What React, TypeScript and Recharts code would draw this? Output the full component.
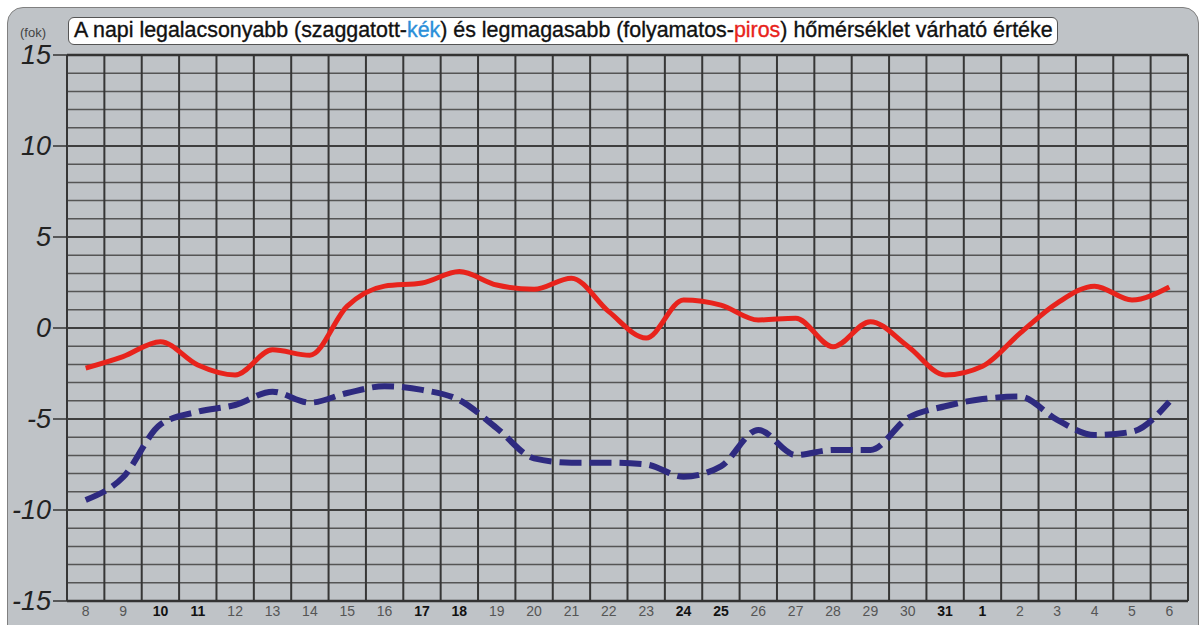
import React from 'react';
import { LineChart, Line, XAxis, YAxis, CartesianGrid, ReferenceLine } from 'recharts';

const days = [
  '8', '9', '10', '11', '12', '13', '14', '15', '16', '17', '18', '19', '20', '21', '22',
  '23', '24', '25', '26', '27', '28', '29', '30', '31', '1', '2', '3', '4', '5', '6',
];
const boldDays = ['10', '11', '17', '18', '24', '25', '31', '1'];

// napi legmagasabb (piros)
const maxTemp = [
  -2.2, -1.57, -0.75, -2.03, -2.58, -1.2, -1.5, 1.2, 2.3, 2.47, 3.1, 2.36, 2.13, 2.74, 0.9,
  -0.55, 1.54, 1.26, 0.44, 0.54, -1.03, 0.35, -1.0, -2.58, -2.1, -0.3, 1.37, 2.3, 1.54, 2.25,
];
// napi legalacsonyabb (kék)
const minTemp = [
  -9.45, -8.2, -5.3, -4.6, -4.23, -3.5, -4.1, -3.57, -3.2, -3.4, -3.96, -5.5, -7.16, -7.4, -7.4,
  -7.5, -8.17, -7.6, -5.6, -6.98, -6.7, -6.7, -4.95, -4.3, -3.9, -3.77, -5.05, -5.88, -5.7, -4.05,
];

const yTicks = [-15, -10, -5, 0, 5, 10, 15];
const majorLines = [-10, -5, 0, 5, 10];
const borderLines = [-15, 15];

const data = days.map((day, i) => ({ day, max: maxTemp[i], min: minTemp[i] }));

const font = '"Liberation Sans", Arial, sans-serif';
const plotWidth = 1203 - 67 - 15;
const halfBand = plotWidth / days.length / 2;

const YTick = ({ x, y, payload }: any) => (
  <text
    x={x}
    y={y}
    textAnchor="end"
    dominantBaseline="central"
    fontFamily={font}
    fontStyle="italic"
    fontSize={27}
    fill="#222"
  >
    {payload.value}
  </text>
);

const XTick = ({ x, y, payload }: any) => {
  const bold = boldDays.includes(payload.value);
  return (
    <text
      x={x}
      y={y}
      dy={7}
      textAnchor="middle"
      fontFamily={font}
      fontSize={14}
      fontWeight={bold ? 'bold' : 'normal'}
      fill={bold ? '#111' : '#555'}
    >
      {payload.value}
    </text>
  );
};

const verticalEdges = ({ offset }: any) =>
  days.concat(['']).map((_, i) => offset.left + (i * offset.width) / days.length);

export default function App() {
  return (
    <div style={{ position: 'relative', width: 1203, height: 625, background: '#fff', overflow: 'hidden' }}>
      <style>{'body{margin:0}'}</style>
      <div
        style={{
          position: 'absolute',
          left: 7,
          top: 7,
          width: 1190,
          height: 660,
          background: '#bfc3c7',
          border: '1.5px solid #808080',
          borderRadius: 16,
        }}
      />
      <div
        style={{
          position: 'absolute',
          left: 20,
          top: 25,
          fontFamily: font,
          fontSize: 13,
          color: '#444',
        }}
      >
        (fok)
      </div>
      <div
        style={{
          position: 'absolute',
          left: 68,
          top: 17,
          width: 990,
          height: 28,
          boxSizing: 'border-box',
          background: '#fff',
          border: '1.5px solid #555',
          borderRadius: 6,
          fontFamily: font,
          fontSize: 21.4,
          lineHeight: '25px',
          paddingLeft: 5,
          color: '#111',
          whiteSpace: 'nowrap',
          WebkitTextStroke: '0.35px #111',
        }}
      >
        A napi legalacsonyabb (szaggatott-
        <span style={{ color: '#2b8fd9', WebkitTextStroke: '0.35px #2b8fd9' }}>kék</span>) és legmagasabb
        (folyamatos-<span style={{ color: '#e8231c', WebkitTextStroke: '0.35px #e8231c' }}>piros</span>)
        hőmérséklet várható értéke
      </div>
      <div style={{ position: 'absolute', left: 0, top: 0 }}>
        <LineChart width={1203} height={625} data={data} margin={{ top: 55, right: 15, bottom: 0, left: 0 }}>
          <CartesianGrid
            stroke="#555"
            strokeWidth={1.5}
            vertical={false}
            horizontalCoordinatesGenerator={({ offset }: any) =>
              Array.from({ length: 31 }, (_, i) => offset.top + (i * offset.height) / 30)
            }
          />
          <CartesianGrid
            stroke="#363636"
            strokeWidth={2}
            horizontal={false}
            verticalCoordinatesGenerator={verticalEdges}
          />
          {majorLines.map((v) => (
            <ReferenceLine key={v} y={v} stroke="#3e3e3e" strokeWidth={2} />
          ))}
          {borderLines.map((v) => (
            <ReferenceLine key={v} y={v} stroke="#333" strokeWidth={2.5} />
          ))}
          <XAxis
            dataKey="day"
            interval={0}
            tickLine={false}
            axisLine={false}
            height={24}
            padding={{ left: halfBand, right: halfBand }}
            tick={<XTick />}
          />
          <YAxis
            domain={[-15, 15]}
            ticks={yTicks}
            width={67}
            axisLine={false}
            tickSize={14}
            tickLine={{ stroke: '#333', strokeWidth: 1.5 }}
            tick={<YTick />}
            allowDataOverflow
          />
          <Line
            type="monotone"
            dataKey="max"
            stroke="#e8231c"
            strokeWidth={5}
            dot={false}
            isAnimationActive={false}
          />
          <Line
            type="monotone"
            dataKey="min"
            stroke="#2e2a80"
            strokeWidth={6}
            strokeDasharray="22 8"
            dot={false}
            isAnimationActive={false}
          />
        </LineChart>
      </div>
    </div>
  );
}
